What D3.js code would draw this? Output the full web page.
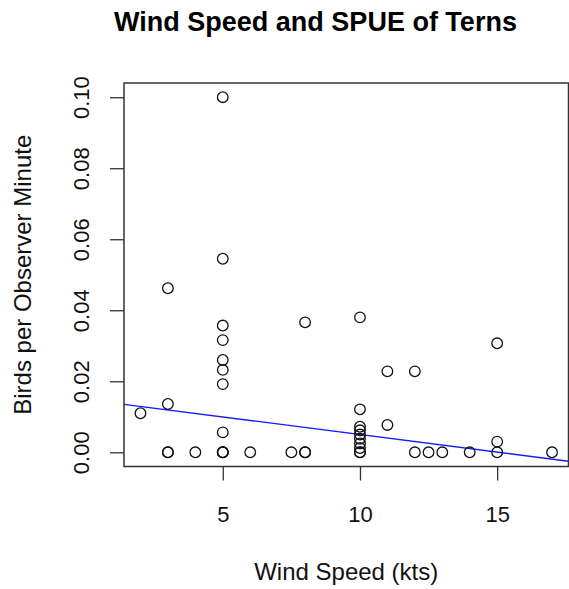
<!DOCTYPE html>
<html>
<head>
<meta charset="utf-8">
<script src="https://cdn.jsdelivr.net/npm/d3@7/dist/d3.min.js"></script>
<style>
  html, body { margin: 0; padding: 0; background: #fff; }
  svg { display: block; font-family: "Liberation Sans", Arial, Helvetica, sans-serif; }
</style>
</head>
<body>
<svg id="chart" width="569" height="589"></svg>
<script>
// wind speed (kts) and birds per observer minute
var windSpeed = [2, 3, 3, 3, 3, 4,
    5, 5, 5, 5, 5, 5, 5, 5, 5, 5, 5,
    6, 7.5, 8, 8, 8,
    10, 10, 10, 10, 10, 10, 10, 10, 10, 10,
    11, 11, 12, 12, 12.5, 13, 14, 15, 15, 15, 17];
var spue = [0.011, 0.0462, 0.0136, 0, 0, 0,
    0.1, 0.0545, 0.0357, 0.0316, 0.026, 0.0232, 0.0192, 0.0056, 0, 0, 0,
    0, 0, 0.0366, 0, 0,
    0.038, 0.0121, 0.0072, 0.0062, 0.005, 0.0038, 0.0025, 0.0012, 0, 0,
    0.0228, 0.0077, 0.0228, 0, 0, 0, 0, 0.0307, 0.003, 0, 0];
// fitted line (abline of lm)
var fitIntercept = 0.0149;
var fitSlope = -0.00099;
var xTicks = [5, 10, 15];
var yTicks = [0, 0.02, 0.04, 0.06, 0.08, 0.10];

(function () {
    'use strict';
    var svg = d3.select('#chart');
    var left = 124, right = 568.5, top = 83, bottom = 466.5;
    var tickLen = 14;

    // R style 4% padding on each side
    var xMin = d3.min(windSpeed), xMax = d3.max(windSpeed);
    var yMin = d3.min(spue), yMax = d3.max(spue);
    var xPad = (xMax - xMin) * 0.04, yPad = (yMax - yMin) * 0.04;
    var x = d3.scaleLinear().domain([xMin - xPad, xMax + xPad]).range([left, right]);
    var y = d3.scaleLinear().domain([yMin - yPad, yMax + yPad]).range([bottom, top]);

    svg.append('defs').append('clipPath').attr('id', 'plotClip')
        .append('rect').attr('x', left).attr('y', top)
        .attr('width', right - left).attr('height', bottom - top);

    // axes
    var xAxis = svg.append('g').attr('transform', 'translate(0,' + bottom + ')')
        .call(d3.axisBottom(x).tickValues(xTicks).tickSize(tickLen).tickPadding(8).tickFormat(d3.format('d')));
    var yAxis = svg.append('g').attr('transform', 'translate(' + left + ',0)')
        .call(d3.axisLeft(y).tickValues(yTicks).tickSize(tickLen).tickFormat(d3.format('.2f')));
    [xAxis, yAxis].forEach(function (g) {
        g.select('.domain').remove();
        g.selectAll('line').attr('stroke', '#333').attr('stroke-width', 1.3);
    });
    xAxis.selectAll('text').attr('fill', '#111').style('font-size', '22px')
        .attr('y', 0).attr('dy', null).attr('transform', 'translate(0,55)');
    yAxis.selectAll('text').attr('fill', '#111').style('font-size', '22px')
        .attr('x', 0).attr('dy', null).attr('text-anchor', 'middle')
        .attr('transform', 'translate(-35,0) rotate(-90)');

    // fitted line
    var xd = x.domain();
    svg.append('line').attr('clip-path', 'url(#plotClip)')
        .attr('x1', x(xd[0])).attr('y1', y(fitIntercept + fitSlope * xd[0]))
        .attr('x2', x(xd[1])).attr('y2', y(fitIntercept + fitSlope * xd[1]))
        .attr('stroke', '#1a1aff').attr('stroke-width', 1.3);

    // points
    svg.append('g').selectAll('circle').data(windSpeed).enter().append('circle')
        .attr('cx', function (d) { return x(d); })
        .attr('cy', function (d, i) { return y(spue[i]); })
        .attr('r', 5.3)
        .attr('fill', 'none').attr('stroke', '#111').attr('stroke-width', 1.3);

    // box
    svg.append('rect').attr('x', left).attr('y', top)
        .attr('width', right - left).attr('height', bottom - top)
        .attr('fill', 'none').attr('stroke', '#333').attr('stroke-width', 1.5);

    // labels
    svg.append('text').attr('x', 315.5).attr('y', 31).attr('text-anchor', 'middle')
        .style('font-size', '27px').style('font-weight', 'bold').attr('fill', '#000')
        .text('Wind Speed and SPUE of Terns');
    svg.append('text').attr('x', (left + right) / 2).attr('y', 580).attr('text-anchor', 'middle')
        .style('font-size', '24px').attr('fill', '#111')
        .text('Wind Speed (kts)');
    svg.append('text').attr('transform', 'translate(31,' + ((top + bottom) / 2) + ') rotate(-90)')
        .attr('text-anchor', 'middle')
        .style('font-size', '24px').attr('fill', '#111')
        .text('Birds per Observer Minute');
})();
</script>
</body>
</html>
